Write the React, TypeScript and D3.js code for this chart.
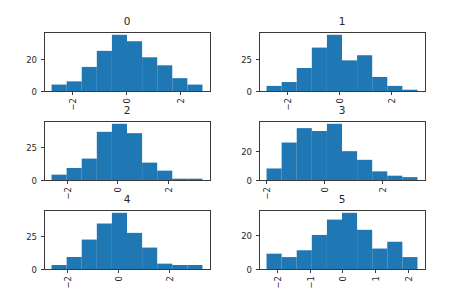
import React from "react";
import * as d3 from "d3";

const titles = ["0", "1", "2", "3", "4", "5"];
const counts0 = [4, 6, 15, 25, 35, 31, 21, 16, 8, 4];
const counts1 = [4, 7, 18, 34, 44, 24, 28, 11, 4, 1];
const counts2 = [4, 9, 16, 36, 42, 35, 13, 7, 1, 1];
const counts3 = [8, 26, 36, 34, 39, 20, 14, 6, 3, 2];
const counts4 = [3, 9, 22, 34, 42, 27, 16, 4, 3, 3];
const counts5 = [9, 7, 11, 20, 29, 33, 23, 12, 16, 7];
const dataMin = [-2.74, -2.81, -2.59, -1.97, -2.61, -2.32];
const dataMax = [2.84, 3.04, 3.36, 3.2, 3.33, 2.29];
const xTicks = [
  [-2, 0, 2],
  [-2, 0, 2],
  [-2, 0, 2],
  [-2, 0, 2],
  [-2, 0, 2],
  [-2, -1, 0, 1, 2],
];
const yTicks = [
  [0, 20],
  [0, 25],
  [0, 25],
  [0, 20],
  [0, 25],
  [0, 20],
];
const allCounts = [counts0, counts1, counts2, counts3, counts4, counts5];

const W = 471;
const H = 296;
const colLeft = [44, 259];
const rowTop = [32, 121, 210];
const AW = 166;
const AH = 59;
const FONT = "DejaVu Sans, sans-serif";
const FRAME = "#3a3a3a";

function Panel({ idx }: { idx: number }) {
  const counts = allCounts[idx];
  const left = colLeft[idx % 2];
  const top = rowTop[Math.floor(idx / 2)];
  const lo = dataMin[idx];
  const hi = dataMax[idx];
  const span = hi - lo;
  const x = d3
    .scaleLinear()
    .domain([lo - 0.05 * span, hi + 0.05 * span])
    .range([left, left + AW]);
  const maxC = d3.max(counts) as number;
  const y = d3.scaleLinear().domain([0, maxC * 1.05]).range([top + AH, top]);
  const bw = span / counts.length;
  return (
    <g>
      {counts.map((c, i) => {
        const x0 = x(lo + i * bw);
        const x1 = x(lo + (i + 1) * bw);
        return (
          <rect
            key={i}
            x={x0}
            y={y(c)}
            width={x1 - x0}
            height={y(0) - y(c)}
            fill="#1f77b4"
          />
        );
      })}
      <rect
        x={left + 0.5}
        y={top + 0.5}
        width={AW}
        height={AH}
        fill="none"
        stroke={FRAME}
        strokeWidth={1}
      />
      {xTicks[idx].map((t) => {
        const px = Math.round(x(t)) + 0.5;
        return (
          <g key={"x" + t}>
            <line x1={px} x2={px} y1={top + AH + 0.5} y2={top + AH + 4} stroke={FRAME} />
            <text
              transform={`translate(${px + 3},${top + AH + 7}) rotate(-90)`}
              textAnchor="end"
              fontSize={8.5}
              fontFamily={FONT}
              fill="#262626"
            >
              {t < 0 ? "\u2212" + Math.abs(t) : String(t)}
            </text>
          </g>
        );
      })}
      {yTicks[idx].map((t) => {
        const py = Math.round(y(t)) + 0.5;
        return (
          <g key={"y" + t}>
            <line x1={left - 3} x2={left + 0.5} y1={py} y2={py} stroke={FRAME} />
            <text
              x={left - 7}
              y={py + 3}
              textAnchor="end"
              fontSize={8.5}
              fontFamily={FONT}
              fill="#262626"
            >
              {t}
            </text>
          </g>
        );
      })}
      <text
        x={left + AW / 2}
        y={top - 7}
        textAnchor="middle"
        fontSize={10.5}
        fontFamily={FONT}
        fill="#262626"
      >
        {titles[idx]}
      </text>
    </g>
  );
}

export default function App() {
  return (
    <svg
      width={W}
      height={H}
      style={{ position: "absolute", left: 0, top: 0, background: "#fff" }}
    >
      {titles.map((_, i) => (
        <Panel key={i} idx={i} />
      ))}
    </svg>
  );
}
